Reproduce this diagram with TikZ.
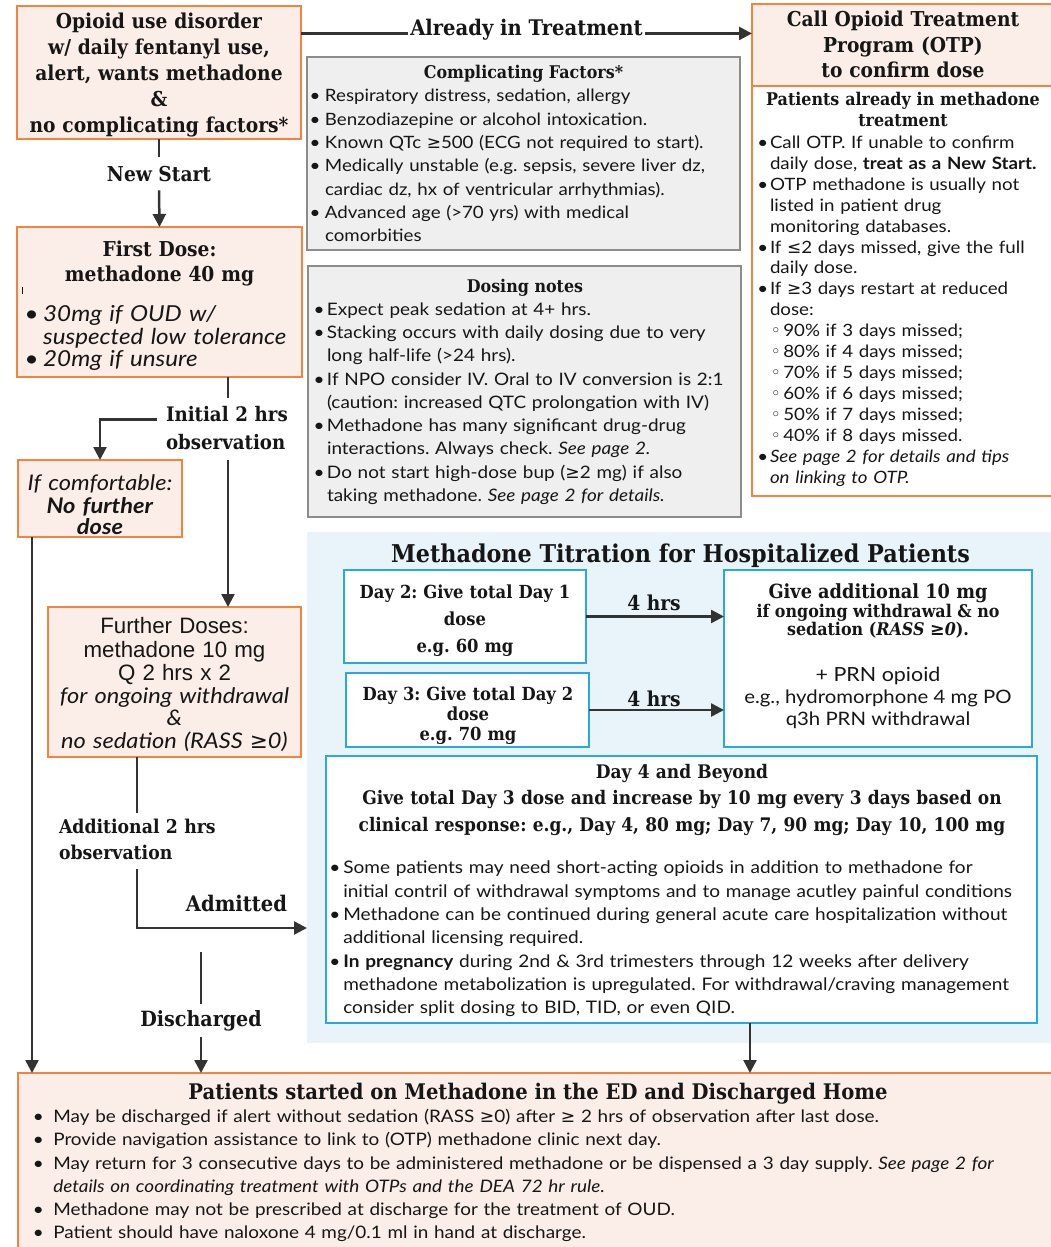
\documentclass[tikz,border=0pt]{standalone}
\usepackage{fontspec}
\setmainfont[FakeStretch=1.1]{Lato}
\newfontfamily\slab[FakeStretch=0.91]{DejaVu Serif}
\newfontfamily\arialf{Liberation Sans}
\newfontfamily\dvs{DejaVu Sans}
\usetikzlibrary{arrows.meta,calc}
\frenchspacing

\definecolor{orangeB}{HTML}{F4833D}
\definecolor{peach}{HTML}{FBEEE8}
\definecolor{grayB}{HTML}{8C8C8C}
\definecolor{grayF}{HTML}{EFEFEF}
\definecolor{panelF}{HTML}{E8F3FA}
\definecolor{cyanB}{HTML}{27AAE1}
\definecolor{lineC}{HTML}{333333}
\definecolor{ink}{HTML}{161616}

\newcommand\fsz[2]{\fontsize{#1}{#2}\selectfont}
\newlength\bw
\newcommand\bi{\makebox[\bw][c]{\textbullet}}
\newcommand\ci{\hspace*{\bw}}
\newcommand\subi{\hspace*{-1.3pt}\makebox[14.6pt][c]{{\dvs ◦}}}
\newcommand\GE{{\dvs ≥}}
\newcommand\LE{{\dvs ≤}}

\begin{document}
\frenchspacing
\begin{tikzpicture}[x=1pt,y=-1pt,
  every node/.style={inner sep=0pt, outer sep=0pt, text=ink},
  box/.style={anchor=north west, line width=1.8pt},
  obox/.style={box, draw=orangeB, fill=peach},
  wbox/.style={box, draw=orangeB, fill=white},
  gbox/.style={box, draw=grayB, fill=grayF, line width=2pt},
  cbox/.style={box, draw=cyanB, fill=white, line width=2pt},
  ctext/.style={anchor=north, align=center, text width=#1},
  ltext/.style={anchor=north west, align=left, text width=#1},
  conn/.style={draw=lineC, line width=2.5pt},
  arr/.style={conn, -{Triangle[length=13pt,width=13pt]}}]

\useasboundingbox (0,0) rectangle (1051,1247);

% ---------- frames ----------
\node[obox, minimum width=284, minimum height=133] (oud) at (17,6) {};
\node[obox, minimum width=285, minimum height=150] (first) at (17,227) {};
\node[obox, minimum width=164, minimum height=77] (nofur) at (18,460) {};
\node[obox, minimum width=253, minimum height=150] (further) at (48,607) {};
\node[obox, minimum width=310, minimum height=82] (otph) at (752,4) {};
\node[wbox, minimum width=310, minimum height=410] (otpb) at (752,86) {};
\node[gbox, minimum width=433, minimum height=193] (comp) at (307,57) {};
\node[gbox, minimum width=433, minimum height=251] (dose) at (308,266) {};
\node[box, fill=panelF, minimum width=760, minimum height=511] (panel) at (307,532) {};
\node[cbox, minimum width=242, minimum height=93] (day2) at (344,570) {};
\node[cbox, minimum width=243, minimum height=74] (day3) at (346,673) {};
\node[cbox, minimum width=308, minimum height=177] (rbox) at (724,570) {};
\node[cbox, minimum width=711, minimum height=267] (day4) at (326,756) {};
\node[obox, minimum width=1045, minimum height=190] (home) at (18,1073) {};

% ---------- left column ----------
\node[ctext=290, font=\slab\bfseries\fsz{20.5}{25.8}] (oudt) at (159,10.9)
  {\strut Opioid use disorder\\ w/ daily fentanyl use,\\ alert, wants methadone\\ \&\\ no complicating factors*};

\node[anchor=base, outer sep=9pt, font=\slab\bfseries\fsz{20.5}{24}] (ns) at (159,181) {New Start};

\node[ctext=280, font=\slab\bfseries\fsz{20.5}{25}] (firstt) at (159.5,238.5)
  {\strut First Dose:\\ methadone 40 mg};
\draw[ink, line width=0.8pt] (22.7,287) -- (22.7,294);
\node[ltext=280, font=\itshape\fsz{22}{21.5}] (firstl) at (20,305)
  {\setlength\bw{23.2pt}\strut\bi 30mg if OUD w/\\ \ci suspected low tolerance\\ \bi 20mg if unsure};

\node[ltext=140, outer sep=3pt, font=\slab\bfseries\fsz{20}{28}] (init) at (163,398.4)
  {\strut Initial 2 hrs\\ observation\strut};

\node[ctext=160, font=\fsz{21.5}{21}] (nofurt) at (100,474.5)
  {\strut\textit{If comfortable:}\\ \textbf{\textit{No further}}\\ \textbf{\textit{dose}}};

\node[ctext=250, font=\fsz{21.5}{22.8}] (furthert) at (174.5,617.3)
  {\strut{\arialf\fontsize{22.3}{22.8}\selectfont Further Doses:}\\
   {\arialf\fontsize{22.3}{22.8}\selectfont methadone 10 mg}\\
   {\arialf\fontsize{22.3}{22.8}\selectfont Q 2 hrs x 2}\\
   \textit{for ongoing withdrawal}\\ \textit{\&}\\ \textit{no sedation (RASS \GE0)}};

\node[ltext=180, outer sep=2pt, font=\slab\bfseries\fsz{19}{26}] (addl) at (57,813.4)
  {\strut Additional 2 hrs\\ observation\strut};

\node[anchor=base, font=\slab\bfseries\fsz{21.5}{24}] (adm) at (236.5,911) {Admitted};
\node[anchor=base, outer sep=6pt, font=\slab\bfseries\fsz{21}{24}] (dis) at (201,1026) {Discharged};
\coordinate (dtop) at (201,952);

% ---------- middle column ----------
\node[anchor=base, inner sep=2pt, font=\slab\bfseries\fsz{21.5}{24}] (atr) at (526.5,36) {Already in Treatment};

\node[anchor=base, font=\slab\bfseries\fsz{17.5}{21}] (compt) at (523.5,78.3) {Complicating Factors*};
\node[ltext=440, font=\fsz{17}{23.33}] (compl) at (305,85.5)
  {\setlength\bw{20pt}\strut\bi Respiratory distress, sedation, allergy\\
   \bi Benzodiazepine or alcohol intoxication.\\
   \bi Known QTc \GE500 (ECG not required to start).\\
   \bi Medically unstable (e.g. sepsis, severe liver dz,\\
   \ci cardiac dz, hx of ventricular arrhythmias).\\
   \bi Advanced age (>70 yrs) with medical\\
   \ci comorbities};

\node[anchor=base, font=\slab\bfseries\fsz{17.5}{21}] (doset) at (525,292) {Dosing notes};
\node[ltext=440, font=\fsz{17.2}{23.3}] (dosel) at (311,298.8)
  {\setlength\bw{16pt}\strut\bi Expect peak sedation at 4+ hrs.\\
   \bi Stacking occurs with daily dosing due to very\\
   \ci long half-life (>24 hrs).\\
   \bi If NPO consider IV. Oral to IV conversion is 2:1\\
   \ci (caution: increased QTC prolongation with IV)\\
   \bi Methadone has many significant drug-drug\\
   \ci interactions. Always check. \textit{See page 2.}\\
   \bi Do not start high-dose bup (\GE2 mg) if also\\
   \ci taking methadone. \textit{See page 2 for details.}};

% ---------- right column ----------
\node[ctext=300, font=\slab\bfseries\fsz{20.5}{25.5}] (otpt) at (903,8.9)
  {\strut Call Opioid Treatment\\ Program (OTP)\\ to confirm dose};
\node[ctext=300, font=\slab\bfseries\fsz{17.5}{21.5}] (otpbt) at (903,90.2)
  {\strut Patients already in methadone\\ treatment};
\node[ltext=300, font=\fsz{17}{20.94}] (otpl) at (755.4,133.7)
  {\setlength\bw{14.6pt}\strut\bi Call OTP. If unable to confirm\\
   \ci daily dose, \textbf{treat as a New Start.}\\
   \bi OTP methadone is usually not\\
   \ci listed in patient drug\\
   \ci monitoring databases.\\
   \bi If \LE2 days missed, give the full\\
   \ci daily dose.\\
   \bi If \GE3 days restart at reduced\\
   \ci dose:\\
   \ci\subi 90\% if 3 days missed;\\
   \ci\subi 80\% if 4 days missed;\\
   \ci\subi 70\% if 5 days missed;\\
   \ci\subi 60\% if 6 days missed;\\
   \ci\subi 50\% if 7 days missed;\\
   \ci\subi 40\% if 8 days missed.\\
   \bi \textit{See page 2 for details and tips}\\
   \ci \textit{on linking to OTP.}};

% ---------- titration panel ----------
\node[anchor=base, font=\slab\bfseries\fsz{24.5}{28}] (ttl) at (680.5,562)
  {Methadone Titration for Hospitalized Patients};

\node[ctext=240, font=\slab\bfseries\fsz{18}{27}] (day2t) at (465,579.2)
  {\strut Day 2: Give total Day 1\\ dose\\ e.g. 60 mg};
\node[ctext=240, font=\slab\bfseries\fsz{18}{20}] (day3t) at (468,686.1)
  {\strut Day 3: Give total Day 2\\ dose\\ e.g. 70 mg};

\node[anchor=base, font=\slab\bfseries\fsz{20.5}{22}] (h1) at (654,610) {4 hrs};
\node[anchor=base, font=\slab\bfseries\fsz{20.5}{22}] (h2) at (654,706) {4 hrs};

\node[anchor=base, font=\slab\bfseries\fsz{19.5}{22}] (r1) at (878,598) {Give additional 10 mg};
\node[anchor=base, font=\slab\bfseries\fsz{17.5}{20}] (r2) at (878,617) {if ongoing withdrawal \& no};
\node[anchor=base, font=\slab\bfseries\fsz{17.5}{20}] (r3) at (878,635) {sedation (\textit{RASS \GE0}).};
\node[anchor=base, font=\fsz{19.5}{22}] (r4) at (878,681) {+ PRN opioid};
\node[anchor=base, font=\fsz{18.5}{22}] (r5) at (878,703.5) {e.g., hydromorphone 4 mg PO};
\node[anchor=base, font=\fsz{18.5}{22}] (r6) at (878,725.5) {q3h PRN withdrawal};

\node[ctext=700, font=\slab\bfseries\fsz{18.7}{26.5}] (day4t) at (682,759.8)
  {\strut Day 4 and Beyond\\
   Give total Day 3 dose and increase by 10 mg every 3 days based on\\
   clinical response: e.g., Day 4, 80 mg; Day 7, 90 mg; Day 10, 100 mg};
\node[ltext=740, font=\fsz{17.3}{23.3}] (day4l) at (326.7,857.6)
  {\setlength\bw{16.6pt}\strut\bi Some patients may need short-acting opioids in addition to methadone for\\
   \ci initial contril of withdrawal symptoms and to manage acutley painful conditions\\
   \bi Methadone can be continued during general acute care hospitalization without\\
   \ci additional licensing required.\\
   \bi \textbf{In pregnancy} during 2nd \& 3rd trimesters through 12 weeks after delivery\\
   \ci methadone metabolization is upregulated. For withdrawal/craving management\\
   \ci consider split dosing to BID, TID, or even QID.};

% ---------- discharge box ----------
\node[anchor=base, font=\slab\bfseries\fsz{21.5}{25}] (homet) at (538,1099.3)
  {Patients started on Methadone in the ED and Discharged Home};
\node[ltext=1100, font=\fsz{17.2}{23.2}] (homel) at (23.3,1106.5)
  {\setlength\bw{30pt}\strut\bi May be discharged if alert without sedation (RASS \GE0) after \GE{} 2 hrs of observation after last dose.\\
   \bi Provide navigation assistance to link to (OTP) methadone clinic next day.\\
   \bi May return for 3 consecutive days to be administered methadone or be dispensed a 3 day supply. \textit{See page 2 for}\\
   \ci \textit{details on coordinating treatment with OTPs and the DEA 72 hr rule.}\\
   \bi Methadone may not be prescribed at discharge for the treatment of OUD.\\
   \bi Patient should have naloxone 4 mg/0.1 ml in hand at discharge.};

% ---------- connectors ----------
\draw[conn] (oud.south) -- (ns.north);
\draw[arr] (ns.south) -- (first.north);

\draw[conn] (oud.east |- atr.mid west) -- (atr.mid west);
\draw[arr] (atr.mid east) -- (otph.west |- atr.mid east);

\coordinate (fa) at ($(first.south west)+(211,0)$);
\draw[conn] (fa) -- (fa |- init.north);
\draw[arr] (init.south -| fa) -- (fa |- further.north);
\coordinate (brk) at ($(init.north west)+(-6,21)$);
\draw[arr] (brk) -| (nofur.north);

\coordinate (nl) at ($(nofur.south west)+(14,0)$);
\draw[arr] (nl) -- (nl |- home.north);

\coordinate (fb) at ($(further.south west)+(89,0)$);
\draw[conn] (fb) -- (fb |- addl.north);
\draw[arr] (addl.south -| fb) |- ($(panel.north west)+(0,396)$);

\draw[conn] (dtop) -- (dis.north);
\draw[arr] (dis.south) -- (dis.south |- home.north);

\draw[arr] (day2.east) -- (day2.east -| rbox.west);
\draw[arr] (day3.east) -- (day3.east -| rbox.west);

\coordinate (d4) at ($(day4.south west)+(424,0)$);
\draw[arr] (d4) -- (d4 |- home.north);

\end{tikzpicture}
\end{document}
